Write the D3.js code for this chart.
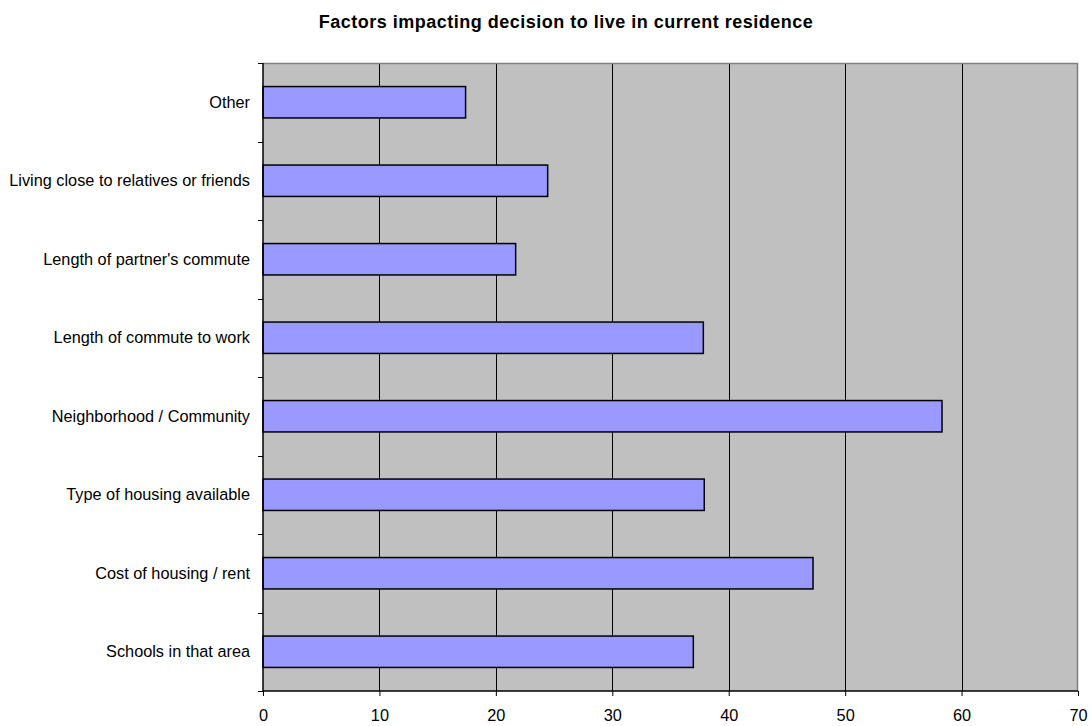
<!DOCTYPE html>
<html>
<head>
<meta charset="utf-8">
<script src="https://cdn.jsdelivr.net/npm/d3@7/dist/d3.min.js"></script>
<style>
  html, body { margin: 0; padding: 0; background: #ffffff; }
  svg { display: block; font-family: "Liberation Sans", Arial, sans-serif; }
</style>
</head>
<body>
<svg id="chart" width="1092" height="726"></svg>
<script>
// Survey responses: reasons for choosing the current residence
const categories = [
  "Schools in that area",
  "Cost of housing / rent",
  "Type of housing available",
  "Neighborhood / Community",
  "Length of commute to work",
  "Length of partner's commute",
  "Living close to relatives or friends",
  "Other"
];
const values = [36.96, 47.24, 37.9, 58.32, 37.82, 21.7, 24.45, 17.4];
const xTicks = [0, 10, 20, 30, 40, 50, 60, 70];
const titleText = "Factors impacting decision to live in current residence";

const svg = d3.select("#chart");
const plot = { left: 263, top: 63, right: 1078, bottom: 691 };

const x = d3.scaleLinear().domain([0, 70]).range([plot.left, plot.right]);
// Top category first so the list reads from the bottom up
const y = d3.scaleBand().domain(categories.slice().reverse()).range([plot.top, plot.bottom]).padding(0);

// Plot background
svg.append("rect")
  .attr("x", plot.left).attr("y", plot.top)
  .attr("width", plot.right - plot.left).attr("height", plot.bottom - plot.top)
  .attr("fill", "#c0c0c0");

// Vertical gridlines
svg.append("g").selectAll("line")
  .data(xTicks.filter(d => d > 0 && d < 70))
  .join("line")
  .attr("x1", d => Math.round(x(d)) + 0.5).attr("x2", d => Math.round(x(d)) + 0.5)
  .attr("y1", plot.top).attr("y2", plot.bottom)
  .attr("stroke", "#000").attr("stroke-width", 1);

// Plot frame (top and right edges)
svg.append("path")
  .attr("d", `M${plot.left},${plot.top + 0.5}H${plot.right - 0.5}V${plot.bottom}`)
  .attr("fill", "none").attr("stroke", "#808080").attr("stroke-width", 1.5);

// Bars
const barH = y.bandwidth() * 0.4;
svg.append("g").selectAll("rect")
  .data(categories.map((c, i) => ({ c, v: values[i] })))
  .join("rect")
  .attr("x", x(0))
  .attr("y", d => y(d.c) + (y.bandwidth() - barH) / 2)
  .attr("width", d => x(d.v) - x(0))
  .attr("height", barH)
  .attr("fill", "#9999ff")
  .attr("stroke", "#000")
  .attr("stroke-width", 1.5);

// X axis
const xAxis = svg.append("g")
  .attr("transform", `translate(0,${plot.bottom})`)
  .call(d3.axisBottom(x).tickValues(xTicks).tickSize(5).tickPadding(13).tickFormat(d3.format("d")));
xAxis.select(".domain").attr("stroke", "#000").attr("stroke-width", 1.5).attr("d", `M${plot.left},0H${plot.right}`);
xAxis.selectAll(".tick line").attr("stroke", "#000");
xAxis.selectAll(".tick text")
  .attr("font-size", 16.3).attr("fill", "#000")
  .attr("font-family", "'Liberation Sans', Arial, sans-serif");

// Y axis: labels centred on bands, ticks on band boundaries
const yAxis = svg.append("g").attr("transform", `translate(${plot.left},0)`);
yAxis.append("line")
  .attr("x1", 0).attr("x2", 0).attr("y1", plot.top).attr("y2", plot.bottom)
  .attr("stroke", "#000").attr("stroke-width", 1.5);
const boundaries = d3.range(categories.length + 1).map(i => plot.top + i * y.step());
yAxis.selectAll(".bt")
  .data(boundaries)
  .join("line")
  .attr("class", "bt")
  .attr("x1", -5).attr("x2", 0)
  .attr("y1", d => Math.round(d) + 0.5).attr("y2", d => Math.round(d) + 0.5)
  .attr("stroke", "#000");
yAxis.selectAll("text")
  .data(categories)
  .join("text")
  .attr("x", -13)
  .attr("y", d => y(d) + y.bandwidth() / 2)
  .attr("dy", "0.35em")
  .attr("text-anchor", "end")
  .attr("font-size", 16.3)
  .attr("fill", "#000")
  .text(d => d);

// Title
svg.append("text")
  .attr("x", 566).attr("y", 28)
  .attr("text-anchor", "middle")
  .attr("font-size", 18)
  .attr("font-weight", "bold")
  .attr("letter-spacing", 0.5)
  .attr("fill", "#000")
  .text(titleText);
</script>
</body>
</html>
